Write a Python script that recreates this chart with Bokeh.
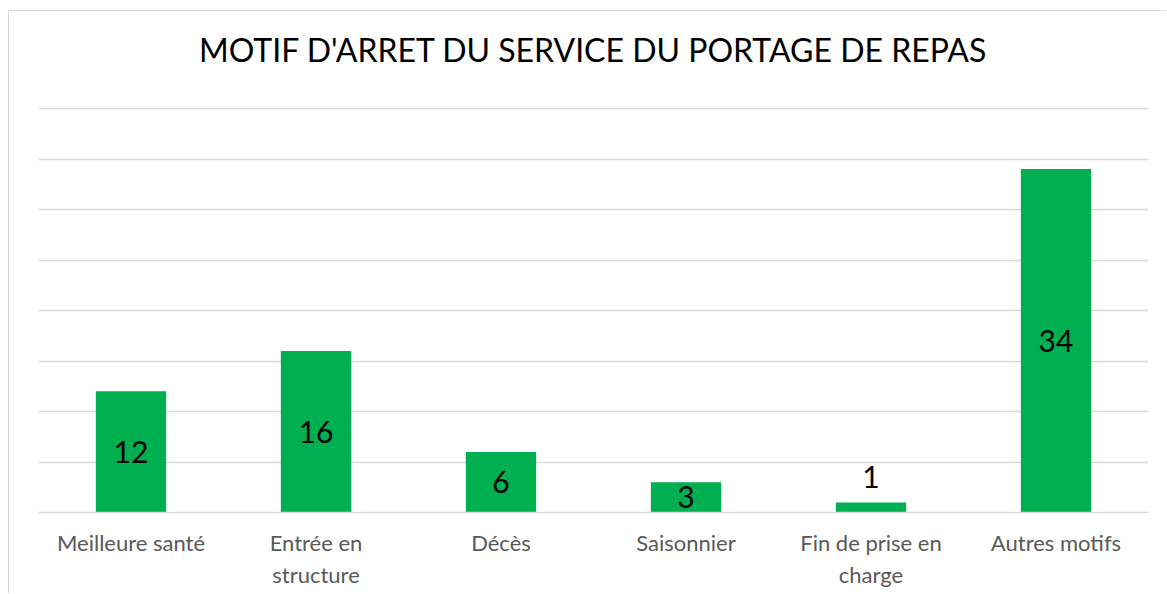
from bokeh.plotting import figure
from bokeh.models import ColumnDataSource, LabelSet, Grid, SingleIntervalTicker, Range1d, Title
from bokeh.core.properties import value
from bokeh.embed import file_html
from bokeh.resources import INLINE

categories = ["Meilleure santé", "Entrée en\nstructure", "Décès", "Saisonnier",
              "Fin de prise en\ncharge", "Autres motifs"]
values = [12, 16, 6, 3, 1, 34]
label_text = [str(v) for v in values]
title_text = "MOTIF D'ARRET DU SERVICE DU PORTAGE DE REPAS"

# data labels centred in the bar; labels of very short bars go just above
label_y = [v / 2 if v > 2 else v + 2.5 for v in values]

source = ColumnDataSource(dict(cat=categories, val=values, txt=label_text, ly=label_y))

p = figure(x_range=categories, y_range=Range1d(0, 40.1), width=1158, height=583,
           output_backend="svg", toolbar_location=None, y_axis_location=None,
           min_border_left=29, min_border_right=19, min_border_top=96, min_border_bottom=82,
           title=None)
p.margin = (10, 0, 0, 8)

# spacer between the plot area and the title
spacer = Title(text=" ", text_font_size="1px", standoff=31)
p.add_layout(spacer, "above")
title = Title(text=title_text, align="center", text_font="Lato", text_font_size="32px",
              text_font_style="normal", text_color="black", standoff=10)
p.add_layout(title, "above")

p.outline_line_color = None
p.xgrid.visible = False
p.add_layout(Grid(dimension=1, ticker=SingleIntervalTicker(interval=5),
                  grid_line_color="#d9d9d9", grid_line_width=1.3))

p.vbar(x="cat", top="val", width=0.38, source=source, fill_color="#00B050", line_color=None)

labels = LabelSet(x="cat", y="ly", text="txt", source=source, text_align="center",
                  text_baseline="middle", text_font=value("Lato"),
                  text_font_size=value("30px"), text_color=value("black"))
p.add_layout(labels)

ax = p.xaxis[0]
ax.axis_line_color = "#d9d9d9"
ax.axis_line_width = 1.3
ax.major_tick_line_color = None
ax.minor_tick_line_color = None
ax.major_tick_out = 0
ax.major_label_standoff = 16
ax.major_label_text_font = "Lato"
ax.major_label_text_font_size = "22px"
ax.major_label_text_color = "#595959"

p.styles = {"border-left": "1px solid #d9d9d9", "border-top": "1px solid #d9d9d9"}

open("out.html", "w").write(file_html(p, INLINE))
